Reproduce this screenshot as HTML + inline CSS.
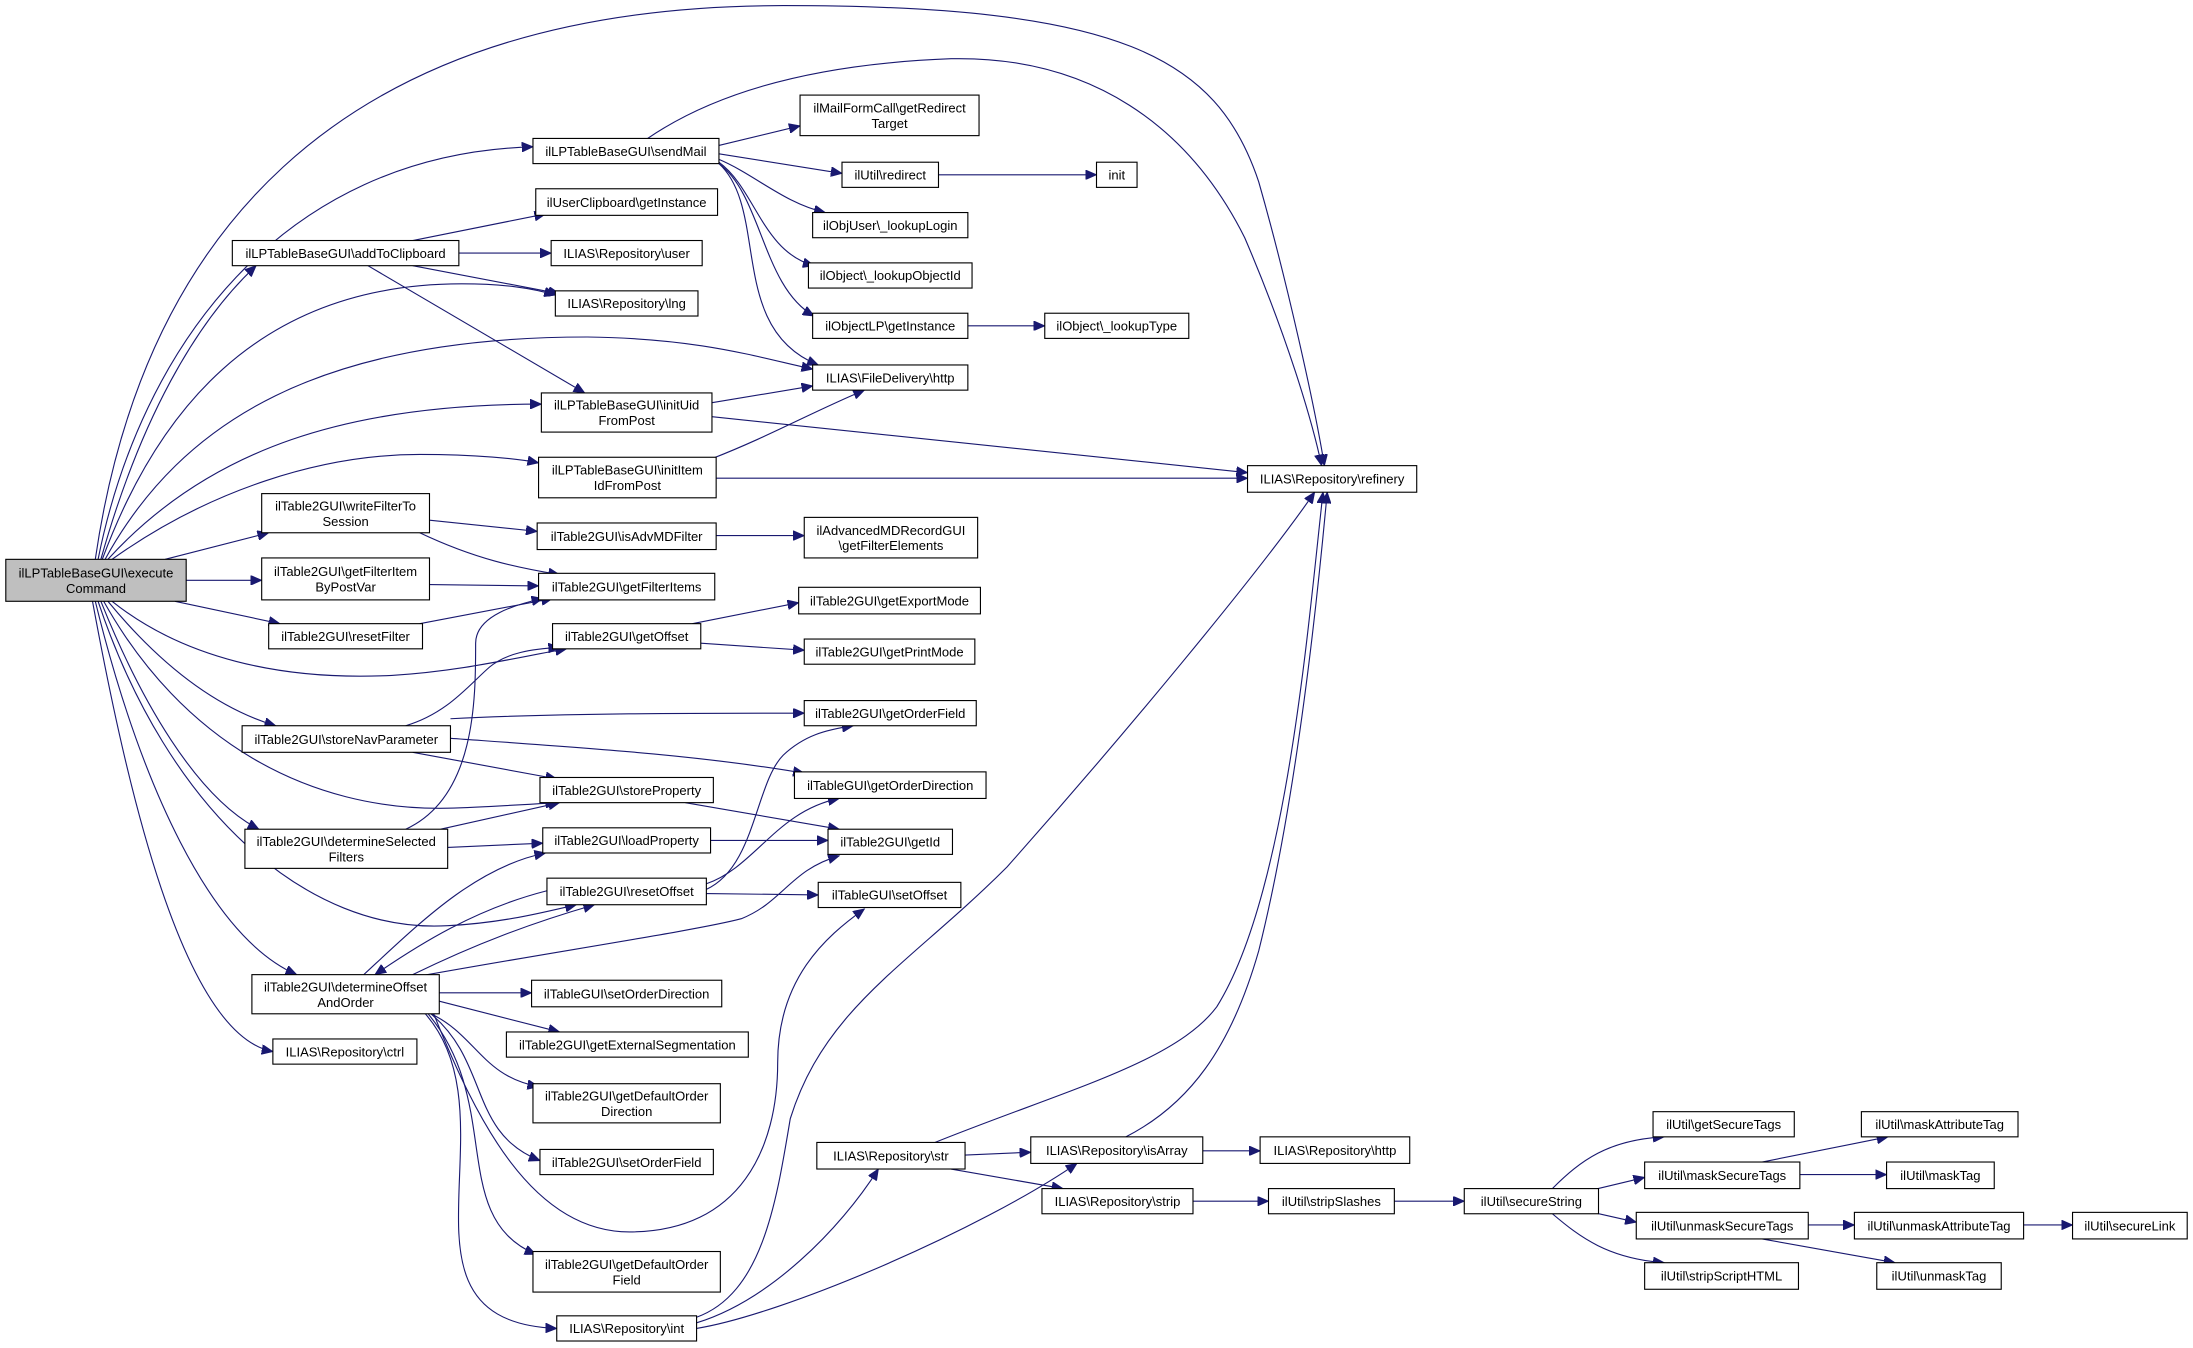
<!DOCTYPE html>
<html><head><meta charset="utf-8"><style>
html,body{margin:0;padding:0;background:#fff;}
svg{display:block;}
text{font-family:"Liberation Sans",Helvetica,Arial,sans-serif;font-size:9.3px;fill:#000;text-anchor:middle;}
rect{fill:#fff;stroke:#000;stroke-width:0.8;}
path{fill:none;stroke:#191970;stroke-width:0.8;}
</style></head><body>
<svg width="2193" height="1348" viewBox="0 0 1568 964" xmlns="http://www.w3.org/2000/svg">
<defs><marker id="a" markerUnits="userSpaceOnUse" markerWidth="9" markerHeight="7" refX="8" refY="3.5" orient="auto"><path d="M0,0 L8,3.5 L0,7 Z" style="fill:#191970;stroke:#191970;stroke-width:0.6"/></marker></defs>
<rect x="0" y="0" width="1568" height="964" style="fill:#fff;stroke:none"/>
<g marker-end="url(#a)">
<!-- execute edges -->
<path d="M68,400 C 100,180 230,4 560,4 C 800,4 870,40 900,130 C 920,200 940,290 947,333"/>
<path d="M70,400 C 100,250 200,110 381,105"/>
<path d="M72,400 C 100,300 140,230 183,190"/>
<path d="M73,400 C 110,300 180,203 330,203 C 360,203 380,206 397,211"/>
<path d="M75,400 C 130,300 230,241 420,241 C 500,242 540,255 581,264"/>
<path d="M77,400 C 150,320 250,289 387,289"/>
<path d="M80,400 C 150,350 230,325 300,325 C 340,325 370,328 385,331"/>
<path d="M118,400 L192,381"/>
<path d="M133,415 L187,415"/>
<path d="M125,430 L200,446"/>
<path d="M80,430 C 130,470 200,487 280,483 C 330,480 370,470 405,464"/>
<path d="M77,430 C 110,470 150,505 197,519"/>
<path d="M74,430 C 130,530 220,580 320,578 C 350,577 380,575 398,574"/>
<path d="M72,430 C 100,500 140,570 185,593"/>
<path d="M70,430 C 120,580 220,668 320,662 C 360,660 390,652 412,647"/>
<path d="M68,430 C 100,560 150,670 212,697"/>
<path d="M66,430 C 90,560 130,740 195,752"/>
<!-- addToClipboard -->
<path d="M295,172 L390,153"/>
<path d="M328,181 L394,181"/>
<path d="M295,190 L400,210"/>
<path d="M263,190 L418,281"/>
<!-- sendMail -->
<path d="M463,99 C 520,60 600,45 680,42 C 780,40 850,90 890,170 C 920,240 938,300 945,333"/>
<path d="M514,104 L572,90"/>
<path d="M514,110 L602,124"/>
<path d="M514,114 C 540,125 560,145 590,152"/>
<path d="M514,116 C 540,135 545,180 582,190"/>
<path d="M514,117 C 545,140 545,205 582,226"/>
<path d="M514,117 C 550,150 520,235 585,261"/>
<path d="M671,125 L784,125"/>
<path d="M691,233 L747,233"/>
<!-- initUid / initItem -->
<path d="M509,288 L581,276"/>
<path d="M509,298 L892,338"/>
<path d="M509,328 C 550,312 580,295 618,279"/>
<path d="M512,342 L892,342"/>
<!-- filters -->
<path d="M307,372 L384,380"/>
<path d="M300,381 C 340,400 370,406 400,411"/>
<path d="M512,383 L575,383"/>
<path d="M307,418 L385,419"/>
<path d="M300,446 L395,428"/>
<path d="M290,593 C 340,570 340,500 340,460 C 340,440 370,432 388,428"/>
<path d="M495,446 L571,431"/>
<path d="M501,460 L575,465"/>
<!-- storeNav -->
<path d="M290,519 C 320,510 335,490 350,477 C 362,467 380,464 400,463"/>
<path d="M322,514 C 400,510 500,510 575,510"/>
<path d="M322,528 C 420,535 500,540 575,553"/>
<path d="M295,538 L398,557"/>
<path d="M490,574 L600,593"/>
<path d="M315,593 L400,574"/>
<path d="M320,606 L388,603"/>
<path d="M508,601 L592,601"/>
<!-- resetOffset -->
<path d="M505,636 C 540,620 540,560 560,540 C 575,526 590,522 610,519"/>
<path d="M505,632 C 540,620 555,580 600,571"/>
<path d="M505,639 L585,640"/>
<path d="M391,637 C 340,650 300,675 268,697"/>
<!-- determineOffsetAndOrder -->
<path d="M260,697 C 300,660 340,620 390,610"/>
<path d="M295,697 C 340,675 380,660 425,647"/>
<path d="M300,698 C 400,680 500,665 530,657 C 560,645 565,622 600,612"/>
<path d="M314,710 L380,710"/>
<path d="M314,716 L400,738"/>
<path d="M308,725 C 340,740 345,770 385,777"/>
<path d="M308,725 C 350,760 335,810 386,830"/>
<path d="M310,725 C 340,800 380,881 450,881 C 530,881 556,820 556,760 C 556,700 590,670 618,650"/>
<path d="M306,725 C 360,790 320,870 383,897"/>
<path d="M304,725 C 370,800 270,945 398,950"/>
<!-- int -->
<path d="M498,946 C 550,930 600,880 628,836"/>
<path d="M498,950 C 560,940 700,880 770,832"/>
<path d="M498,942 C 545,925 555,860 565,800 C 590,720 650,690 720,620 C 800,530 900,410 940,352"/>
<!-- str / isArray -->
<path d="M666,818 C 760,780 840,760 870,720 C 920,640 935,450 946,352"/>
<path d="M805,813 C 850,790 880,750 900,680 C 925,580 940,450 949,352"/>
<path d="M690,826 L737,824"/>
<path d="M680,836 L760,850"/>
<path d="M860,823 L901,823"/>
<path d="M853,859 L907,859"/>
<path d="M997,859 L1047,859"/>
<path d="M1110,850 C 1130,830 1150,815 1190,813"/>
<path d="M1130,853 L1176,842"/>
<path d="M1130,865 L1170,874"/>
<path d="M1110,868 C 1130,885 1150,900 1190,903"/>
<path d="M1260,831 L1350,813"/>
<path d="M1287,840 L1349,840"/>
<path d="M1293,876 L1326,876"/>
<path d="M1260,886 L1355,903"/>
<path d="M1447,876 L1482,876"/>
</g>
<!-- nodes -->
<rect x="4" y="400" width="129" height="30" style="fill:#bfbfbf"/><text x="68.5" y="413">ilLPTableBaseGUI\execute</text><text x="68.5" y="424">Command</text>
<rect x="381" y="99" width="133" height="18"/><text x="447.5" y="111.4">ilLPTableBaseGUI\sendMail</text>
<rect x="572" y="68" width="128" height="29"/><text x="636" y="80.5">ilMailFormCall\getRedirect</text><text x="636" y="91.5">Target</text>
<rect x="602" y="116" width="69" height="18"/><text x="636.5" y="128.4">ilUtil\redirect</text>
<rect x="784" y="116" width="29" height="18"/><text x="798.5" y="128.4">init</text>
<rect x="581" y="152" width="111" height="18"/><text x="636.5" y="164.4">ilObjUser\_lookupLogin</text>
<rect x="578" y="188" width="117" height="18"/><text x="636.5" y="200.4">ilObject\_lookupObjectId</text>
<rect x="581" y="224" width="111" height="18"/><text x="636.5" y="236.4">ilObjectLP\getInstance</text>
<rect x="747" y="224" width="103" height="18"/><text x="798.5" y="236.4">ilObject\_lookupType</text>
<rect x="581" y="261" width="111" height="18"/><text x="636.5" y="273.4">ILIAS\FileDelivery\http</text>
<rect x="383" y="135" width="130" height="19"/><text x="448" y="147.9">ilUserClipboard\getInstance</text>
<rect x="166" y="172" width="162" height="18"/><text x="247" y="184.4">ilLPTableBaseGUI\addToClipboard</text>
<rect x="394" y="172" width="108" height="18"/><text x="448" y="184.4">ILIAS\Repository\user</text>
<rect x="397" y="208" width="102" height="18"/><text x="448" y="220.4">ILIAS\Repository\lng</text>
<rect x="387" y="281" width="122" height="28"/><text x="448" y="293">ilLPTableBaseGUI\initUid</text><text x="448" y="304">FromPost</text>
<rect x="385" y="327" width="127" height="29"/><text x="448.5" y="339.5">ilLPTableBaseGUI\initItem</text><text x="448.5" y="350.5">IdFromPost</text>
<rect x="892" y="333" width="121" height="19"/><text x="952.5" y="345.9">ILIAS\Repository\refinery</text>
<rect x="187" y="353" width="120" height="28"/><text x="247" y="365">ilTable2GUI\writeFilterTo</text><text x="247" y="376">Session</text>
<rect x="384" y="374" width="128" height="19"/><text x="448" y="386.9">ilTable2GUI\isAdvMDFilter</text>
<rect x="575" y="370" width="124" height="29"/><text x="637" y="382.5">ilAdvancedMDRecordGUI</text><text x="637" y="393.5">\getFilterElements</text>
<rect x="187" y="399" width="120" height="30"/><text x="247" y="412">ilTable2GUI\getFilterItem</text><text x="247" y="423">ByPostVar</text>
<rect x="385" y="410" width="126" height="19"/><text x="448" y="422.9">ilTable2GUI\getFilterItems</text>
<rect x="192" y="446" width="110" height="18"/><text x="247" y="458.4">ilTable2GUI\resetFilter</text>
<rect x="395" y="446" width="106" height="18"/><text x="448" y="458.4">ilTable2GUI\getOffset</text>
<rect x="571" y="420" width="130" height="19"/><text x="636" y="432.9">ilTable2GUI\getExportMode</text>
<rect x="575" y="457" width="122" height="18"/><text x="636" y="469.4">ilTable2GUI\getPrintMode</text>
<rect x="575" y="501" width="123" height="18"/><text x="636.5" y="513.4">ilTable2GUI\getOrderField</text>
<rect x="568" y="552" width="137" height="19"/><text x="636.5" y="564.9">ilTableGUI\getOrderDirection</text>
<rect x="592" y="593" width="89" height="18"/><text x="636.5" y="605.4">ilTable2GUI\getId</text>
<rect x="585" y="631" width="102" height="18"/><text x="636" y="643.4">ilTableGUI\setOffset</text>
<rect x="173" y="519" width="149" height="19"/><text x="247.5" y="531.9">ilTable2GUI\storeNavParameter</text>
<rect x="386" y="556" width="124" height="18"/><text x="448" y="568.4">ilTable2GUI\storeProperty</text>
<rect x="175" y="593" width="145" height="28"/><text x="247.5" y="605">ilTable2GUI\determineSelected</text><text x="247.5" y="616">Filters</text>
<rect x="388" y="592" width="120" height="18"/><text x="448" y="604.4">ilTable2GUI\loadProperty</text>
<rect x="391" y="628" width="114" height="19"/><text x="448" y="640.9">ilTable2GUI\resetOffset</text>
<rect x="180" y="697" width="134" height="28"/><text x="247" y="709">ilTable2GUI\determineOffset</text><text x="247" y="720">AndOrder</text>
<rect x="380" y="701" width="136" height="19"/><text x="448" y="713.9">ilTableGUI\setOrderDirection</text>
<rect x="362" y="738" width="173" height="18"/><text x="448.5" y="750.4">ilTable2GUI\getExternalSegmentation</text>
<rect x="195" y="743" width="103" height="18"/><text x="246.5" y="755.4">ILIAS\Repository\ctrl</text>
<rect x="381" y="775" width="134" height="28"/><text x="448" y="787">ilTable2GUI\getDefaultOrder</text><text x="448" y="798">Direction</text>
<rect x="386" y="822" width="124" height="18"/><text x="448" y="834.4">ilTable2GUI\setOrderField</text>
<rect x="381" y="895" width="134" height="29"/><text x="448" y="907.5">ilTable2GUI\getDefaultOrder</text><text x="448" y="918.5">Field</text>
<rect x="398" y="941" width="100" height="18"/><text x="448" y="953.4">ILIAS\Repository\int</text>
<rect x="584" y="817" width="106" height="19"/><text x="637" y="829.9">ILIAS\Repository\str</text>
<rect x="737" y="813" width="123" height="19"/><text x="798.5" y="825.9">ILIAS\Repository\isArray</text>
<rect x="745" y="850" width="108" height="18"/><text x="799" y="862.4">ILIAS\Repository\strip</text>
<rect x="901" y="813" width="107" height="19"/><text x="954.5" y="825.9">ILIAS\Repository\http</text>
<rect x="907" y="850" width="90" height="18"/><text x="952" y="862.4">ilUtil\stripSlashes</text>
<rect x="1047" y="850" width="96" height="18"/><text x="1095" y="862.4">ilUtil\secureString</text>
<rect x="1182" y="795" width="101" height="18"/><text x="1232.5" y="807.4">ilUtil\getSecureTags</text>
<rect x="1176" y="831" width="111" height="19"/><text x="1231.5" y="843.9">ilUtil\maskSecureTags</text>
<rect x="1170" y="867" width="123" height="19"/><text x="1231.5" y="879.9">ilUtil\unmaskSecureTags</text>
<rect x="1176" y="903" width="110" height="19"/><text x="1231" y="915.9">ilUtil\stripScriptHTML</text>
<rect x="1331" y="795" width="112" height="18"/><text x="1387" y="807.4">ilUtil\maskAttributeTag</text>
<rect x="1349" y="831" width="77" height="19"/><text x="1387.5" y="843.9">ilUtil\maskTag</text>
<rect x="1326" y="867" width="121" height="19"/><text x="1386.5" y="879.9">ilUtil\unmaskAttributeTag</text>
<rect x="1342" y="903" width="89" height="19"/><text x="1386.5" y="915.9">ilUtil\unmaskTag</text>
<rect x="1482" y="867" width="82" height="19"/><text x="1523" y="879.9">ilUtil\secureLink</text>
</svg>
</body></html>
